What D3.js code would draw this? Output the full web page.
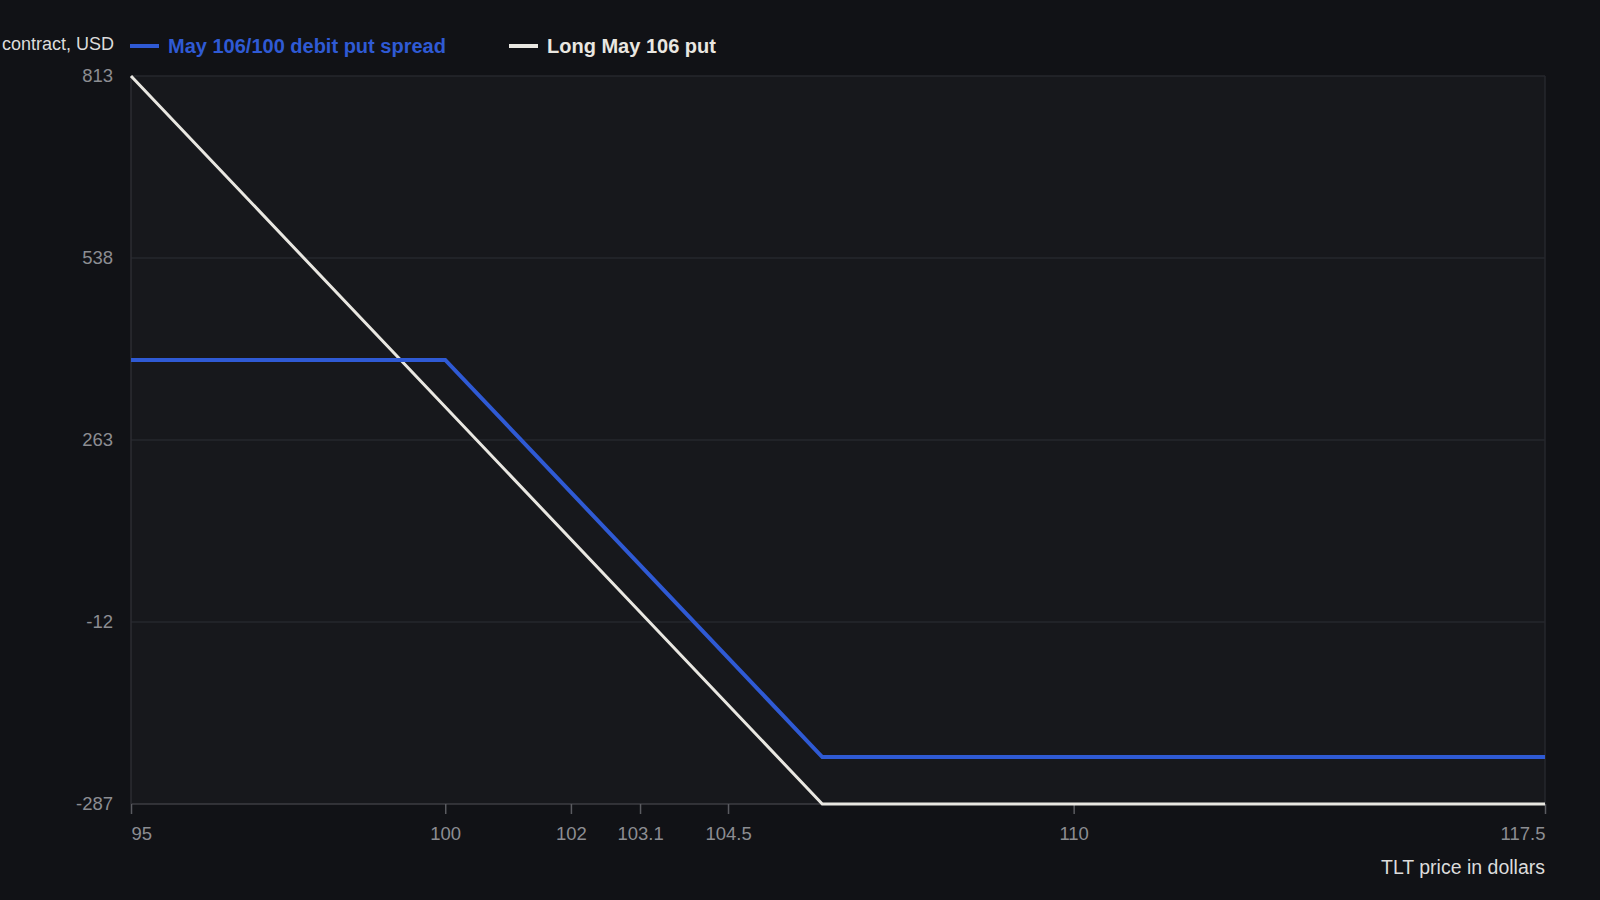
<!DOCTYPE html>
<html>
<head>
<meta charset="utf-8">
<script src="https://cdn.jsdelivr.net/npm/d3@7"></script>
<style>
  html, body { margin: 0; padding: 0; background: #111216; }
  svg { display: block; font-family: "Liberation Sans", Arial, sans-serif; }
</style>
</head>
<body>
<svg id="chart"></svg>
<script>
// price points (TLT, dollars) and P&L per contract (USD)
const spreadPrices = [95, 100, 106, 117.5]
const spreadValues = [384, 384, -216, -216]

const putPrices = [95, 106, 117.5]
const putValues = [813, -287, -287]

const xTickValues = [95, 100, 102, 103.1, 104.5, 110, 117.5]
const yTickValues = [-287, -12, 263, 538, 813]

const seriesNames = ['May 106/100 debit put spread', 'Long May 106 put']
const seriesColors = ['#2f5ad4', '#e9e7e1']

const width = 1600
const height = 900
const margin = { top: 76, right: 55, bottom: 96, left: 131 }
const w = width - margin.left - margin.right
const h = height - margin.top - margin.bottom

const svg = d3.select('#chart')
  .attr('width', width)
  .attr('height', height)

svg.append('rect')
  .attr('width', width)
  .attr('height', height)
  .attr('fill', '#111216')

const chart = svg.append('g')
  .attr('transform', `translate(${margin.left}, ${margin.top})`)

const x = d3.scaleLinear()
  .domain([95, 117.5])
  .range([0, w])

const y = d3.scaleLinear()
  .domain([-287, 813])
  .range([h, 0])

// plot background
chart.append('rect')
  .attr('width', w)
  .attr('height', h)
  .attr('fill', '#17181c')

// grid
chart.append('g')
  .selectAll('line')
  .data(yTickValues)
  .join('line')
    .attr('x1', 0)
    .attr('x2', w)
    .attr('y1', d => y(d))
    .attr('y2', d => y(d))
    .attr('stroke', d => d === -287 ? '#3c3d42' : '#26272c')
    .attr('stroke-width', 1.5)

chart.append('line')
  .attr('x1', w).attr('x2', w)
  .attr('y1', 0).attr('y2', h)
  .attr('stroke', '#26272c')
  .attr('stroke-width', 1.5)

chart.append('line')
  .attr('x1', 0).attr('x2', 0)
  .attr('y1', 0).attr('y2', h)
  .attr('stroke', '#2c2d32')
  .attr('stroke-width', 1.5)

// x axis
const xAxis = d3.axisBottom(x)
  .tickValues(xTickValues)
  .tickSize(10)
  .tickPadding(13)
  .tickFormat(d => String(d))

const gx = chart.append('g')
  .attr('transform', `translate(0, ${h})`)
  .call(xAxis)

gx.select('.domain').remove()
gx.selectAll('.tick line').attr('stroke', '#5a5b60').attr('stroke-width', 1.5)
gx.selectAll('.tick text')
  .attr('fill', '#8c8d92')
  .attr('font-size', 18.5)
  .attr('text-anchor', d => d === 95 ? 'start' : d === 117.5 ? 'end' : 'middle')

// y axis
const yAxis = d3.axisLeft(y)
  .tickValues(yTickValues)
  .tickSize(0)
  .tickPadding(18)
  .tickFormat(d => String(d))

const gy = chart.append('g').call(yAxis)
gy.select('.domain').remove()
gy.selectAll('.tick text')
  .attr('fill', '#8c8d92')
  .attr('font-size', 18.5)

// lines
const line = d3.line()
  .x(d => x(d[0]))
  .y(d => y(d[1]))

chart.append('path')
  .datum(d3.zip(putPrices, putValues))
  .attr('d', line)
  .attr('fill', 'none')
  .attr('stroke', seriesColors[1])
  .attr('stroke-width', 3)

chart.append('path')
  .datum(d3.zip(spreadPrices, spreadValues))
  .attr('d', line)
  .attr('fill', 'none')
  .attr('stroke', seriesColors[0])
  .attr('stroke-width', 4)

// axis titles (the reference shows only the tail of the y title)
svg.append('text')
  .attr('x', 114)
  .attr('y', 50)
  .attr('text-anchor', 'end')
  .attr('fill', '#dcdcdc')
  .attr('font-size', 18)
  .text('contract, USD')

svg.append('text')
  .attr('x', margin.left + w)
  .attr('y', 874)
  .attr('text-anchor', 'end')
  .attr('fill', '#dcdcdc')
  .attr('font-size', 19.5)
  .text('TLT price in dollars')

// legend
const legendX = [130, 509]
const legend = svg.append('g')
  .selectAll('g')
  .data(seriesNames)
  .join('g')
    .attr('transform', (d, i) => `translate(${legendX[i]}, 46)`)

legend.append('line')
  .attr('x1', 0).attr('x2', 29)
  .attr('stroke', (d, i) => seriesColors[i])
  .attr('stroke-width', 4)

legend.append('text')
  .attr('x', 38)
  .attr('dy', '0.35em')
  .attr('fill', (d, i) => seriesColors[i])
  .attr('font-size', 20)
  .attr('font-weight', 'bold')
  .text(d => d)
</script>
</body>
</html>
